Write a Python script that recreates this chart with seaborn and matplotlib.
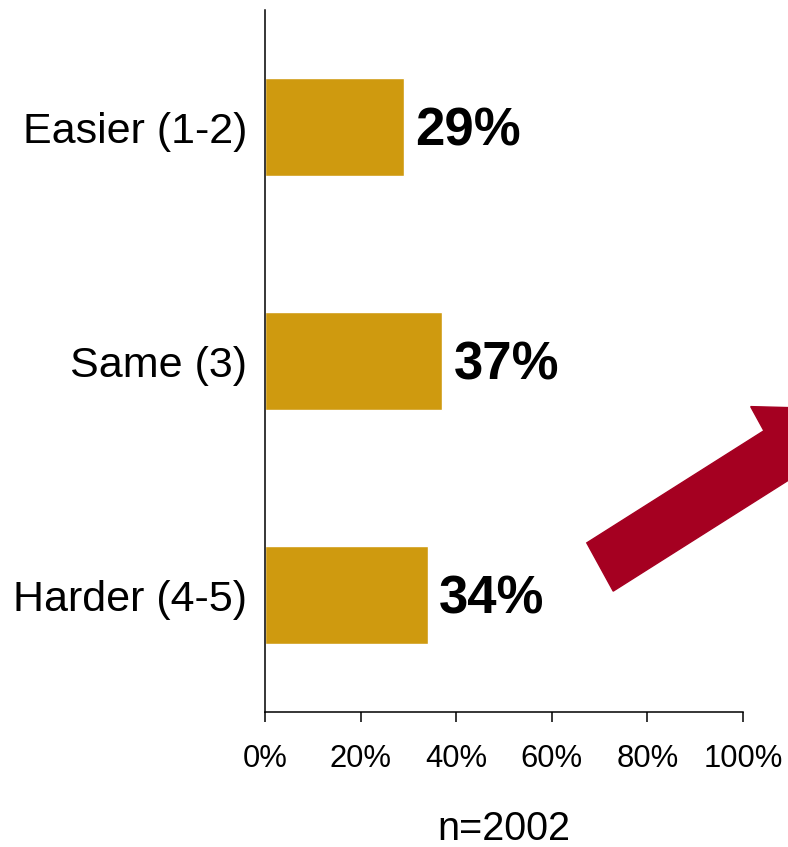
import matplotlib
matplotlib.use("Agg")
import matplotlib.pyplot as plt
import seaborn as sns
import pandas as pd
from matplotlib.patches import FancyArrow

categories = ["Easier (1-2)", "Same (3)", "Harder (4-5)"]
values = [29, 37, 34]
value_labels = ["29%", "37%", "34%"]
xticks = [0, 20, 40, 60, 80, 100]
xtick_labels = ["0%", "20%", "40%", "60%", "80%", "100%"]
xlabel = "n=2002"

sns.set_theme(style="white")
plt.rcParams['font.family'] = ['Liberation Sans', 'DejaVu Sans']

bar_color = "#CF9A0F"
arrow_color = "#A50021"

df = pd.DataFrame({"cat": categories, "val": values})

fig = plt.figure(figsize=(7.88, 8.47), dpi=100)
ax = fig.add_axes([265/788, 1-712/847, (743-265)/788, (712-10)/847])
sns.barplot(data=df, x="val", y="cat", orient="h", color=bar_color,
            width=0.42, ax=ax, saturation=1)
ax.set_xlim(0, 100)
ax.set_ylim(2.5, -0.5)
ax.set_xticks(xticks)
ax.set_xticklabels(xtick_labels, fontsize=22.3, color="black")
ax.set_yticks(range(len(categories)))
ax.set_yticklabels(categories, fontsize=31, color="black")
ax.tick_params(axis='y', length=0, pad=13)
ax.tick_params(axis='x', length=7, width=1.1, color='black', direction='out', pad=16, bottom=True)
ax.set_ylabel("")
ax.set_xlabel(xlabel, fontsize=28.5, color="black", labelpad=26)
for s in ["top", "right"]:
    ax.spines[s].set_visible(False)
for s in ["left", "bottom"]:
    ax.spines[s].set_color("black")
    ax.spines[s].set_linewidth(1.1)

for i, (v, lab) in enumerate(zip(values, value_labels)):
    ax.text(v + 2.4, i + 0.078, lab, va="baseline", ha="left", fontsize=38,
            fontweight="bold", color="black")

# arrow in figure pixel coordinates (y up)
W, H = 788, 847
tail = (600, H - 567)
dx, dy = 0.845, 0.535
L = 295
arr = FancyArrow(tail[0] / W, tail[1] / H, dx * L / W, dy * L / H,
                 width=56 / H, head_width=112 / H, head_length=90 / H,
                 length_includes_head=True, color=arrow_color,
                 transform=fig.transFigure, clip_on=False)
fig.patches.append(arr)

fig.savefig("out.png", dpi=100)
